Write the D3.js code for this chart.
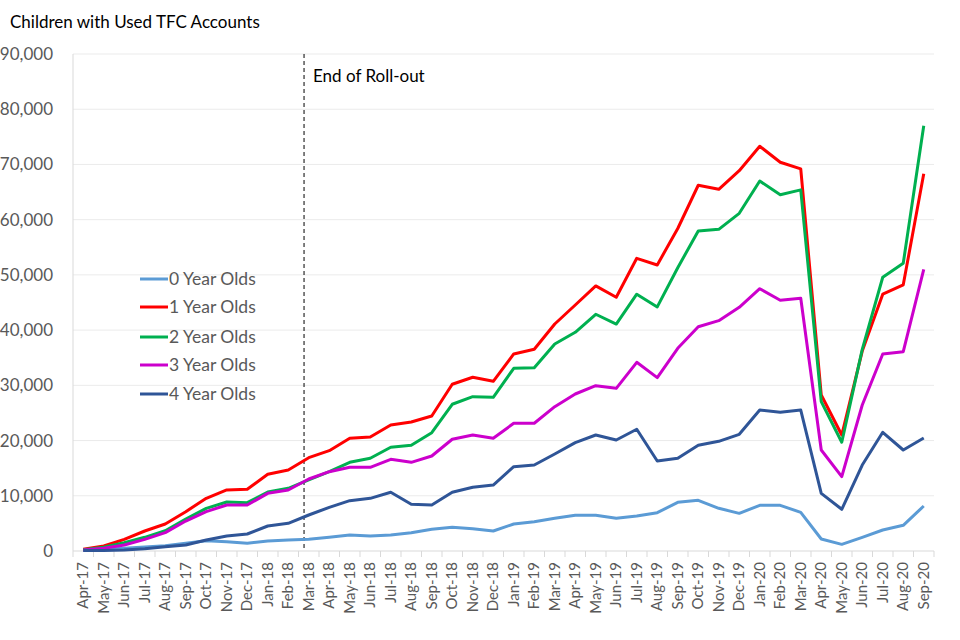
<!DOCTYPE html>
<html>
<head>
<meta charset="utf-8">
<script src="https://cdn.jsdelivr.net/npm/d3@7"></script>
<style>
  body { margin: 0; background: #fff; }
  text { font-family: Lato, "Open Sans", sans-serif; }
</style>
</head>
<body>
<script>
var months = ["Apr-17","May-17","Jun-17","Jul-17","Aug-17","Sep-17","Oct-17","Nov-17","Dec-17",
  "Jan-18","Feb-18","Mar-18","Apr-18","May-18","Jun-18","Jul-18","Aug-18","Sep-18","Oct-18","Nov-18","Dec-18",
  "Jan-19","Feb-19","Mar-19","Apr-19","May-19","Jun-19","Jul-19","Aug-19","Sep-19","Oct-19","Nov-19","Dec-19",
  "Jan-20","Feb-20","Mar-20","Apr-20","May-20","Jun-20","Jul-20","Aug-20","Sep-20"];

var age0 = [100,300,500,720,960,1390,1870,1690,1390,1810,1990,2110,2480,2900,2720,2900,3320,3930,4290,4050,3620,
  4890,5310,5920,6460,6460,5920,6340,6940,8810,9180,7730,6820,8270,8270,7000,2170,1200,2470,3800,4650,8150];
var age1 = [300,900,2110,3620,4890,7120,9540,11050,11170,13890,14670,16900,18170,20410,20650,22820,23360,24450,30190,31460,30730,
  35680,36530,41110,44550,48000,45950,53000,51800,58400,66230,65500,68870,73300,70400,69200,28250,21000,36200,46500,48200,68300];
var age2 = [250,670,1510,2480,3680,5800,7730,8870,8750,10680,11350,12860,14360,16060,16790,18780,19140,21430,26570,27950,27840,
  33080,33200,37490,39600,42870,41100,46500,44200,51300,57950,58250,61150,67000,64500,65400,27040,19700,36500,49570,52100,77000];
var age3 = [200,490,1090,2110,3320,5430,7120,8330,8330,10440,11050,13040,14360,15160,15160,16600,16060,17200,20230,21010,20410,
  23130,23130,26130,28430,29940,29460,34170,31390,36700,40620,41710,44130,47500,45400,45760,18290,13460,26440,35680,36100,51000];
var age4 = [100,100,200,420,780,1090,1990,2720,3080,4530,5010,6520,7910,9110,9540,10630,8460,8330,10630,11540,11950,
  15270,15570,17570,19620,21010,20100,22040,16300,16780,19140,19860,21130,25530,25110,25530,10440,7550,15570,21500,18290,20460];

var seriesNames = ["0 Year Olds","1 Year Olds","2 Year Olds","3 Year Olds","4 Year Olds"];
var seriesColors = ["#5b9bd5","#ff0000","#00b050","#cc00cc","#2f5597"];
var seriesValues = [age0, age1, age2, age3, age4];
var yTicks = [0,10000,20000,30000,40000,50000,60000,70000,80000,90000];
var rollOutAt = 10.77; // position between Feb-18 and Mar-18

var width = 960, height = 640;
var plotLeft = 73, plotRight = 934, plotTop = 54, plotBottom = 551;

var svg = d3.select("body").append("svg")
    .attr("width", width)
    .attr("height", height);

var x = d3.scaleBand().domain(months).range([plotLeft, plotRight]);
var xc = function(i) { return x(months[i]) + x.bandwidth() / 2; };
var y = d3.scaleLinear().domain([0, 90000]).range([plotBottom, plotTop]);

// gridlines
svg.append("g")
    .selectAll("line")
    .data(yTicks.slice(1))
    .enter()
    .append("line")
    .attr("x1", plotLeft)
    .attr("x2", plotRight)
    .attr("y1", function(d) { return y(d); })
    .attr("y2", function(d) { return y(d); })
    .attr("stroke", "#ebebeb")
    .attr("stroke-width", 1);

// y axis labels
svg.append("g")
    .selectAll("text")
    .data(yTicks)
    .enter()
    .append("text")
    .attr("x", 53)
    .attr("y", function(d) { return y(d) + 6; })
    .attr("text-anchor", "end")
    .style("font-size", "17px")
    .attr("fill", "#595959")
    .text(function(d) { return d3.format(",")(d); });

// y axis line
svg.append("line")
    .attr("x1", plotLeft).attr("x2", plotLeft)
    .attr("y1", plotTop).attr("y2", plotBottom)
    .attr("stroke", "#d9d9d9");

// x axis
var xAxis = svg.append("g")
    .attr("transform", "translate(0," + plotBottom + ")");
xAxis.append("line")
    .attr("x1", plotLeft).attr("x2", plotRight)
    .attr("stroke", "#d9d9d9");
xAxis.selectAll(".tick")
    .data(months.concat(["end"]))
    .enter()
    .append("line")
    .attr("x1", function(d, i) { return plotLeft + i * x.step(); })
    .attr("x2", function(d, i) { return plotLeft + i * x.step(); })
    .attr("y1", 0)
    .attr("y2", 6)
    .attr("stroke", "#d9d9d9");
xAxis.selectAll("text")
    .data(months)
    .enter()
    .append("text")
    .attr("transform", function(d) {
        return "translate(" + (x(d) + x.bandwidth() / 2 + 5) + ",11) rotate(-90)";
    })
    .attr("text-anchor", "end")
    .style("font-size", "15px")
    .attr("fill", "#595959")
    .text(function(d) { return d; });

// roll-out marker
var rx = plotLeft + (rollOutAt + 0.5) * x.step();
svg.append("line")
    .attr("x1", rx).attr("x2", rx)
    .attr("y1", plotTop).attr("y2", plotBottom)
    .attr("stroke", "#000")
    .attr("stroke-width", 1)
    .attr("stroke-dasharray", "4,3");
svg.append("text")
    .attr("x", rx + 9)
    .attr("y", 82)
    .style("font-size", "17px")
    .attr("fill", "#000")
    .text("End of Roll-out");

// lines
var line = d3.line()
    .x(function(d, i) { return xc(i); })
    .y(function(d) { return y(d); });

seriesValues.forEach(function(vals, k) {
    svg.append("path")
        .datum(vals)
        .attr("d", line)
        .attr("fill", "none")
        .attr("stroke", seriesColors[k])
        .attr("stroke-width", 3)
        .attr("stroke-linejoin", "round");
});

// legend
var legend = svg.append("g");
var legendY = [279, 307, 337, 365, 394];
seriesNames.forEach(function(name, k) {
    legend.append("line")
        .attr("x1", 140).attr("x2", 168)
        .attr("y1", legendY[k]).attr("y2", legendY[k])
        .attr("stroke", seriesColors[k])
        .attr("stroke-width", 3);
    legend.append("text")
        .attr("x", 169)
        .attr("y", legendY[k] + 6)
        .style("font-size", "17.5px")
        .attr("fill", "#595959")
        .text(name);
});

// title
svg.append("text")
    .attr("x", 10)
    .attr("y", 28)
    .style("font-size", "17px")
    .attr("fill", "#000")
    .text("Children with Used TFC Accounts");
</script>
</body>
</html>
